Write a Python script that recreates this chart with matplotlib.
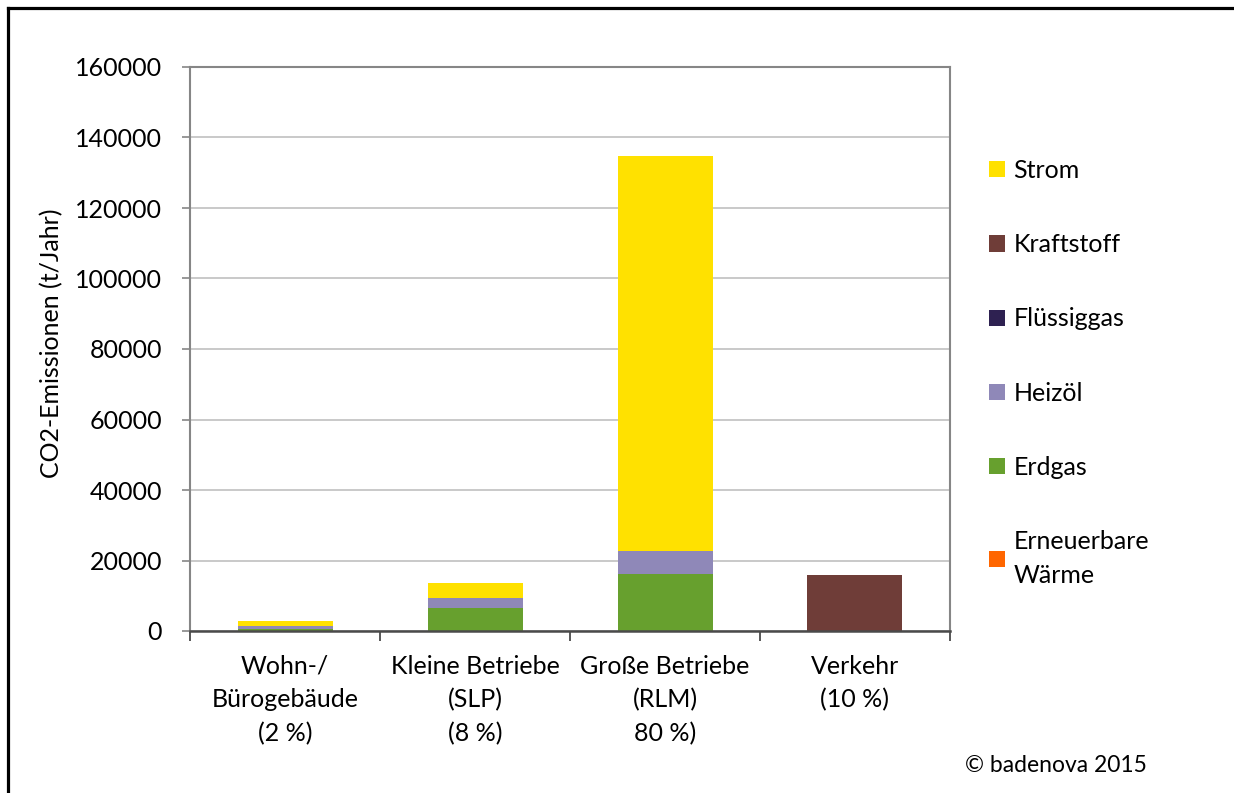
import matplotlib
matplotlib.use("Agg")
import matplotlib.pyplot as plt
import numpy as np
from matplotlib.lines import Line2D
from matplotlib.patches import Patch

plt.rcParams['font.family'] = ['Lato', 'DejaVu Sans']

categories = ["Wohn-/\nBürogebäude\n(2 %)", "Kleine Betriebe\n(SLP)\n(8 %)",
              "Große Betriebe\n(RLM)\n80 %)", "Verkehr\n(10 %)"]

# stack order bottom -> top
erneuerbare = [0, 0, 0, 0]
erdgas = [700, 6400, 16100, 0]
heizoel = [600, 3100, 6600, 0]
fluessiggas = [0, 0, 0, 0]
kraftstoff = [0, 0, 0, 15900]
strom = [1500, 4000, 112100, 0]

series = [
    ("Erneuerbare\nWärme", erneuerbare, "#FF6600"),
    ("Erdgas", erdgas, "#67A02E"),
    ("Heizöl", heizoel, "#8F88B8"),
    ("Flüssiggas", fluessiggas, "#2E2151"),
    ("Kraftstoff", kraftstoff, "#6F3D38"),
    ("Strom", strom, "#FFE100"),
]

W, H = 1234, 793
FS = 18
fig = plt.figure(figsize=(W / 100, H / 100), dpi=100)
ax = fig.add_axes([190 / W, 1 - 631 / H, 760 / W, 564 / H])

x = np.arange(len(categories))
bottom = np.zeros(len(categories))
for name, vals, col in series:
    ax.bar(x, vals, 0.5, bottom=bottom, color=col, edgecolor="none", zorder=2)
    bottom += np.array(vals)

ax.set_xlim(-0.5, len(categories) - 0.5)
ax.set_ylim(0, 160000)
ax.set_yticks(np.arange(0, 160001, 20000))
ax.grid(axis="y", color="#C0C0C0", linewidth=1.2, zorder=0)
ax.set_axisbelow(True)

for s in ["top", "right", "left"]:
    ax.spines[s].set_color("#868686")
    ax.spines[s].set_linewidth(1.5)
ax.spines["bottom"].set_color("#4a4a4a")
ax.spines["bottom"].set_linewidth(1.8)

ax.tick_params(axis="y", direction="out", length=6, width=1.2, color="#868686",
               pad=14, labelsize=FS)
ax.set_xticks(x)
ax.set_xticklabels(categories, linespacing=1.55)
ax.set_xticks(np.arange(-0.5, len(categories), 1), minor=True)
ax.tick_params(axis="x", which="major", length=0, pad=17, labelsize=FS)
ax.tick_params(axis="x", which="minor", direction="out", length=7, width=1.3,
               color="#4a4a4a")

fig.text(52 / W, 1 - 343 / H, "CO2-Emissionen (t/Jahr)", rotation=90,
         ha="center", va="center", fontsize=FS)

handles = [Patch(facecolor=col, edgecolor="none") for _, _, col in series[::-1]]
labels = [name for name, _, _ in series[::-1]]
leg = fig.legend(handles, labels, loc="upper left",
                 bbox_to_anchor=(989 / W, 1 - 159 / H), frameon=False,
                 fontsize=FS, handlelength=0.62, handleheight=0.62,
                 handletextpad=0.35, labelspacing=2.05, borderpad=0,
                 borderaxespad=0)
for t in leg.get_texts():
    t.set_linespacing(1.55)

fig.text(965 / W, 1 - 765 / H, "© badenova 2015", ha="left", va="center",
         fontsize=16.5)

# outer frame (top and left edges visible)
fig.add_artist(Line2D([7.5 / W, 1.0], [1 - 8 / H, 1 - 8 / H], color="black",
                      linewidth=2.3, transform=fig.transFigure))
fig.add_artist(Line2D([7.5 / W, 7.5 / W], [0, 1 - 8 / H], color="black",
                      linewidth=2.3, transform=fig.transFigure))

fig.savefig("out.png", dpi=100, facecolor="white")
